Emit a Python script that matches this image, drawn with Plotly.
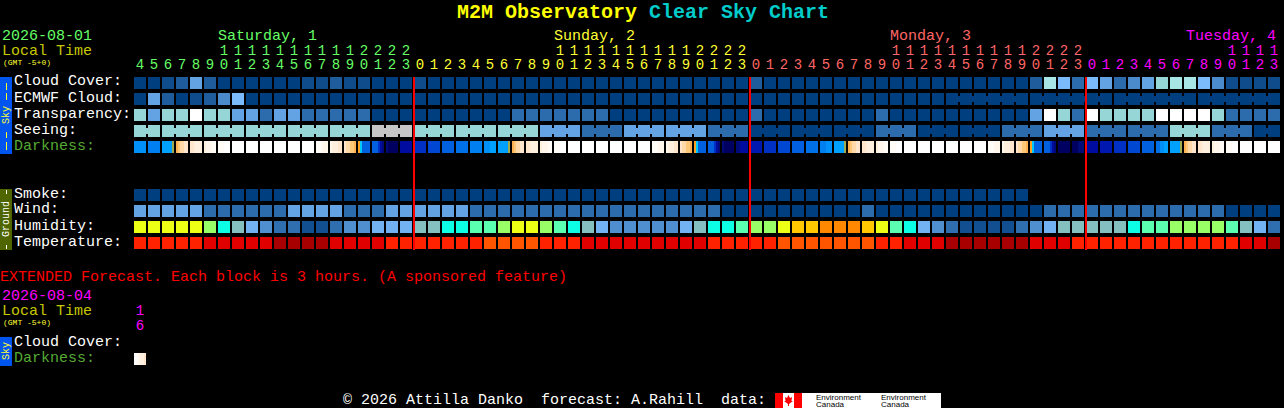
import plotly.graph_objects as go

# ---------- data: one entry per hour block, starting at hour 4 of Saturday ----------
hours = [4,5,6,7,8,9,10,11,12,13,14,15,16,17,18,19,20,21,22,23,
         0,1,2,3,4,5,6,7,8,9,10,11,12,13,14,15,16,17,18,19,20,21,22,23,
         0,1,2,3,4,5,6,7,8,9,10,11,12,13,14,15,16,17,18,19,20,21,22,23,
         0,1,2,3,4,5,6,7,8,9,10,11,12,13]

cloud_cover = [0,0,1,2,5,2,0,0,0,0,0,0,1,1,2,1,1,0,0,0,1,
               0,0,0,0,0,0,0,0,0,0,0,0,0,0,0,0,0,0,0,0,0,0,0,2,
               0,0,0,0,0,0,0,0,0,0,0,0,0,0,0,0,0,0,0,2,
               8,6,3,6,5,3,4,5,7,8,8,6,4,1,1,1,1]
ecmwf_cloud = [0,5,2,0,1,2,4,6] + [0]*74
transparency = [7,5,7,7,9,7,7,5,5,3,5,5,3,3,3,3,3,0,0,0,0,
                0,0,0,0,0,0,3,3,3,3,3,3,3,0,0,0,0,0,0,0,0,0,0,3,
                0,0,0,0,0,0,0,0,3,0,0,0,0,0,0,0,0,0,0,5,
                9,7,3,9,7,7,7,7,9,9,9,9,7,3,3,3,3]
seeing = [7,7, 7,7,7, 7,7,7, 7,7,7, 7,7,7, 7,7,7, 10,10,10,
          7,7,7, 7,7,7, 7,7,7, 5,5,5, 3,3,3, 5,5,5, 5,5,5, 3,3,3,
          0,0,0, 0,0,0, 0,0,0, 3,3,3, 0,0,0, 0,0,0, 3,3,3, 5,5,5,
          3,3,3, 3,3,3, 7,7,7, 3,3,3, 0,0]
seeing_block_sizes = [2,3,3,3,3,3,3,3,3,3,3,3,3,3,3,3,3,3,3,3,3,3,3,3,3,3,3,2]
ecmwf_block_sizes = [1]*58 + [6,6,6,6]

smoke = [0]*64
wind = [5,5,5,5,5,3,3,3,3,3,3,5,5,5,5,3,3,3,5,5,5,
        5,5,5,3,3,3,3,3,3,3,3,3,3,3,3,3,3,3,3,3,3,0,0,0,
        0,0,0,0,0,0,0,3,0,0,0,0,0,0,0,0,0,0,0,0,
        3,3,3,3,3,3,3,3,3,3,3,3,3,0,0,0,0]
humidity = [9,9,9,9,9,8,7,6,5,4,3,3,2,2,3,4,4,5,5,5,6,
            6,7,7,10,10,8,9,9,8,10,7,6,5,4,4,4,4,4,5,6,7,7,10,8,
            8,9,11,11,12,12,12,11,9,10,7,5,4,3,2,2,2,2,3,4,
            5,6,6,6,6,6,7,10,10,8,8,8,8,10,6,5,3]
temperature = [2,2,2,2,2,1,1,1,1,1,0,0,0,0,1,1,1,1,2,2,2,
               2,2,2,2,3,3,3,3,2,2,2,1,1,1,1,1,1,1,1,1,2,2,2,2,
               2,3,3,3,3,3,3,3,2,2,1,1,1,0,0,0,0,0,0,1,
               1,1,2,2,2,2,2,2,2,2,2,2,2,2,1,1,0]

# An hour is one level, or six left-to-right samples where it changes within the hour.
SUNRISE = [[7,6,5,5,4,4],[4,4,3,3,3,3],[3,2,2,2,1,1],[1,1,1,0,0,0]]
SUNSET = [[1,1,1,2,2,2],[2,3,3,3,4,4],[4,5,5,6,6,7],[8,9,14,14,14,14],[14,14,14,16,18,19]]
TAIL = [10,10,10,10,10,21]
darkness = ([11,12,TAIL] + SUNRISE + [0,0,0,0,0,0] + SUNSET +
            [[19,20,20,20,20,20],18,16,15,14,13,12,[11,11,11,10,10,10],TAIL] + SUNRISE +
            [0,0,0,0,0,0] + SUNSET +
            [[19,20,20,20,20,20],[19,19,18,18,18,18],17,16,15,14,13,[12,12,12,11,11,11],TAIL] + SUNRISE +
            [0,0,0,0,0,0] + SUNSET +
            [20,[20,20,20,19,19,19],18,17,16,15,14,[13,13,11,11,10,10],TAIL] + SUNRISE + [0,0,0])
ext_darkness = [[0,1,2,3,3,4]]

sky_labels = ["Cloud Cover:", "ECMWF Cloud:", "Transparency:", "Seeing:", "Darkness:"]
ground_labels = ["Smoke:", "Wind:", "Humidity:", "Temperature:"]
day_names = ["Saturday, 1", "Sunday, 2", "Monday, 3", "Tuesday, 4"]
midnights = [20, 44, 68]

# ---------- styles ----------
SKY = ["#003F7F","#0F4C8C","#1F5C9C","#2C6CAC","#4B8BCB","#63A3E3","#7BBBFB",
       "#96D6D6","#A8E6E6","#FFFFFF","#C6C6C6"]
HUM = ["#003F7F","#0F4F8F","#114F91","#2F6FAF","#4F8FCF","#72B2F2","#85C0C0",
       "#0CFFE4","#99FF66","#EEFF16","#5AFFB0","#FFC800","#FF8800"]
TEMP = ["#A80000","#E00000","#FF2200","#FF5500"]
DARK = ["#FFFFFF","#FFFBF6","#FFF6EC","#FFEFDF","#FFE6CC","#FFD9A8","#FFC878","#FFB050",
        "#FFA020","#00C8F8","#00A0FF","#0090F8","#0080F0","#0070E8","#0060E0","#0048D4",
        "#0030C4","#0018B0","#000CA0","#000A78","#000060","#A0A850"]
MONO = "Liberation Mono"
W, H = 1284, 408
GREEN, YELLOW, PINK, MAGENTA = "#66FF66", "#FFFF33", "#FF6666", "#FF00FF"
OLIVE = "#C8C800"
DARKGREEN = "#55AA33"

# Axes are scaled so that one hour is 14 px and one row is 16 px.
def xpx(p): return (p - 140) / 14
def ypx(p): return (p - 83) / 16

fig = go.Figure()

def add_row(name, row, values, palette):
    xs = list(range(len(values)))
    fig.add_bar(x=xs, y=[12/16]*len(xs), base=[row - 6/16]*len(xs), width=12/14,
                marker=dict(color=[palette[v] for v in values], line_width=0),
                name=name, showlegend=False, hoverinfo="x+name")

def add_joins(name, row, values, sizes, palette):
    xs, cs, start = [], [], 0
    for s in sizes:
        for k in range(start, start + s - 1):
            xs.append(k + 0.5)
            cs.append(palette[values[k]])
        start += s
    fig.add_bar(x=xs, y=[6/16]*len(xs), base=[row - 3/16]*len(xs), width=2/14,
                marker=dict(color=cs, line_width=0), name=name + " join",
                showlegend=False, hoverinfo="skip")

def add_dark(row, values):
    xs, cs = [], []
    for i, v in enumerate(values):
        samples = v if isinstance(v, list) else [v]*6
        for k, s in enumerate(samples):
            xs.append(i - 5/14 + k*2/14)
            cs.append(DARK[s])
    fig.add_bar(x=xs, y=[12/16]*len(xs), base=[row - 6/16]*len(xs), width=2/14,
                marker=dict(color=cs, line_width=0), name="Darkness",
                showlegend=False, hoverinfo="skip")

add_row("Cloud Cover", 0, cloud_cover, SKY)
add_row("ECMWF Cloud", 1, ecmwf_cloud, SKY)
add_joins("ECMWF Cloud", 1, ecmwf_cloud, ecmwf_block_sizes, SKY)
add_row("Transparency", 2, transparency, SKY)
add_row("Seeing", 3, seeing, SKY)
add_joins("Seeing", 3, seeing, seeing_block_sizes, SKY)
add_dark(4, darkness)
add_row("Smoke", 7, smoke, SKY)
add_row("Wind", 8, wind, SKY)
add_row("Humidity", 9, humidity, HUM)
add_row("Temperature", 10, temperature, TEMP)
add_dark(ypx(359), ext_darkness)

# hour labels
day_of = [GREEN]*20 + [YELLOW]*24 + [PINK]*24 + [MAGENTA]*14
tens_x = [i for i, h in enumerate(hours) if h >= 10]
fig.add_scatter(x=list(range(len(hours))), y=[ypx(65)]*len(hours), mode="text",
                text=[str(h % 10) for h in hours],
                textfont=dict(family=MONO, size=14, color=day_of),
                showlegend=False, hoverinfo="skip")
fig.add_scatter(x=tens_x, y=[ypx(51)]*len(tens_x), mode="text",
                text=[str(hours[i] // 10) for i in tens_x],
                textfont=dict(family=MONO, size=14, color=[day_of[i] for i in tens_x]),
                showlegend=False, hoverinfo="skip")
fig.add_scatter(x=[0, 0], y=[ypx(311), ypx(326)], mode="text", text=["1", "6"],
                textfont=dict(family=MONO, size=14, color=MAGENTA),
                showlegend=False, hoverinfo="skip")

# ---------- text ----------
def text(s, x, y, color="#FFFFFF", size=15, anchor="left", bold=False, angle=0, family=MONO):
    if bold:
        s = "<b>" + s + "</b>"
    fig.add_annotation(x=x/W, y=1 - y/H, xref="paper", yref="paper", text=s, showarrow=False,
                       xanchor=anchor, yanchor="middle", textangle=angle,
                       borderpad=0, borderwidth=0, align="left",
                       font=dict(family=family, size=size, color=color))

fig.add_annotation(x=642.5/W, y=1 - 12/H, xref="paper", yref="paper", showarrow=False,
                   xanchor="center", yanchor="middle", borderpad=0,
                   text='<b><span style="color:#FFFF00">M2M Observatory</span> '
                        '<span style="color:#00CCCC">Clear Sky Chart</span></b>',
                   font=dict(family=MONO, size=20))

text("2026-08-01", 2, 36, GREEN)
text("Local Time", 2, 51, OLIVE)
text("(GMT -5+0)", 3, 62, YELLOW, size=8)
for name, x, c in zip(day_names, [218, 554, 890, 1186], [GREEN, YELLOW, PINK, MAGENTA]):
    text(name, x, 36, c)

for j, s in enumerate(sky_labels):
    text(s, 14, 82 + 16*j, DARKGREEN if s == "Darkness:" else "#FFFFFF")
for j, s in enumerate(ground_labels):
    text(s, 14, 194 + 16*j)

text("Sky", 6, 115, YELLOW, size=10, anchor="center", angle=-90)
text("Ground", 6, 219, "#FFFFFF", size=10, anchor="center", angle=-90)

text("EXTENDED Forecast. Each block is 3 hours. (A sponsored feature)", 0, 277, "#FF0000")
text("2026-08-04", 2, 296, MAGENTA)
text("Local Time", 2, 311, OLIVE)
text("(GMT -5+0)", 3, 322, YELLOW, size=8)
text("Cloud Cover:", 14, 342)
text("Darkness:", 14, 358, DARKGREEN)
text("Sky", 6, 351, YELLOW, size=10, anchor="center", angle=-90)

text("© 2026 Attilla Danko  forecast: A.Rahill  data:", 343, 400)
for x in [816, 881]:
    text("Environment", x, 397, "#000000", size=8, family="Liberation Sans")
    text("Canada", x, 404, "#000000", size=8, family="Liberation Sans")

# ---------- decoration ----------
def rect(x0, y0, x1, y1, color, layer="below"):
    return dict(type="rect", xref="paper", yref="paper", x0=x0/W, x1=x1/W, y0=1-y0/H, y1=1-y1/H,
                fillcolor=color, line_width=0, layer=layer)

def seg(y0, y1, color):
    return dict(type="line", xref="paper", yref="paper", x0=6.5/W, x1=6.5/W, y0=1-y0/H, y1=1-y1/H,
                line=dict(color=color, width=1))

shapes = [
    rect(0, 77, 12, 154, "#0055EE"),
    rect(0, 189, 12, 250, "#4F6600"),
    rect(0, 337, 12, 366, "#0055EE"),
    seg(83, 90, YELLOW), seg(93, 100, YELLOW), seg(132, 138, YELLOW), seg(142, 150, YELLOW),
    seg(190, 194, "#FFFFFF"), seg(245, 249, "#FFFFFF"),
    rect(775, 393, 941, 408, "#FFFFFF"),
    rect(775, 393, 783, 408, "#FF0000"),
    rect(794, 393, 802, 408, "#FF0000"),
    dict(type="path", xref="paper", yref="paper", fillcolor="#FF0000", line_width=0, layer="below",
         path="M {} {} ".format(788.5/W, 1-395/H) + " ".join(
             "L {} {}".format(px/W, 1-py/H) for px, py in
             [(790,398),(792,397),(791.5,401),(793,401),(789,404),(789,406),(788,406),(788,404),
              (784,401),(785.5,401),(785,397),(787,398)]) + " Z"),
]
for m in midnights:
    shapes.append(dict(type="line", xref="x", yref="y", x0=m - 3/7, x1=m - 3/7,
                       y0=ypx(77), y1=ypx(250), line=dict(color="#FF0000", width=2), layer="above"))

fig.update_layout(
    width=W, height=H, margin=dict(l=0, r=0, t=0, b=0, pad=0),
    paper_bgcolor="#000000", plot_bgcolor="#000000",
    barmode="overlay", bargap=0, showlegend=False, shapes=shapes,
    xaxis=dict(range=[xpx(0), xpx(W)], visible=False, fixedrange=True),
    yaxis=dict(range=[ypx(H), ypx(0)], visible=False, fixedrange=True),
)
fig.write_html("out.html", config={"displayModeBar": False},
               post_script="document.body.style.margin='0';")
